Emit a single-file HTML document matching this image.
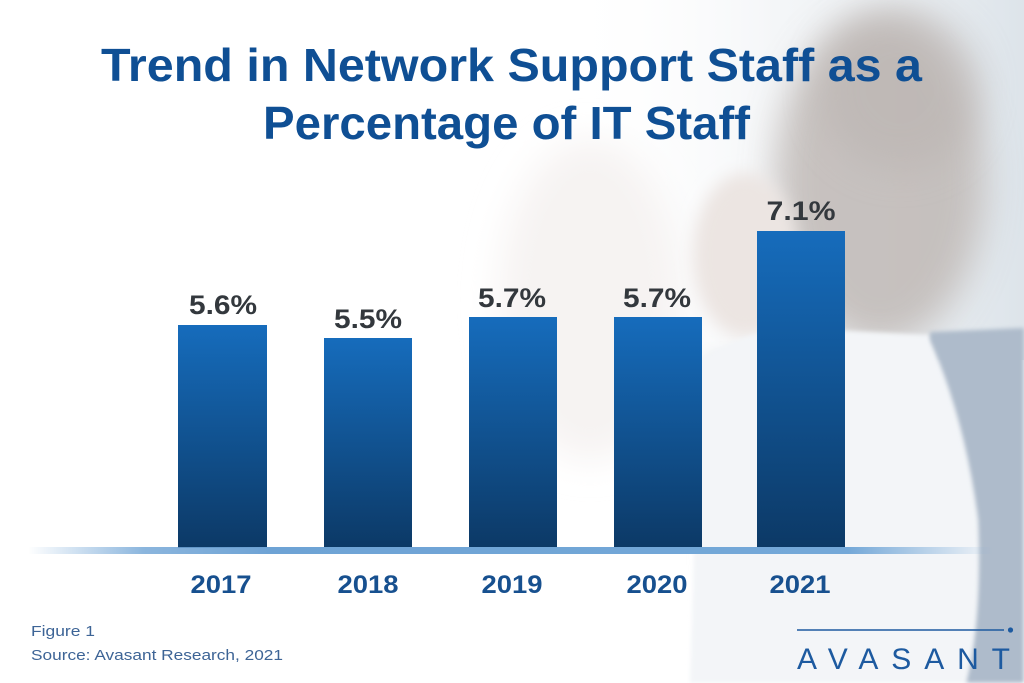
<!DOCTYPE html>
<html><head><meta charset="utf-8"><style>
html,body{margin:0;padding:0;background:#fff;}
svg{display:block;}
</style></head><body>
<svg width="1024" height="683" viewBox="0 0 1024 683" xmlns="http://www.w3.org/2000/svg">
<defs>
<linearGradient id="bar" x1="0" y1="0" x2="0" y2="1">
<stop offset="0" stop-color="#166cbc"/>
<stop offset="1" stop-color="#0c3966"/>
</linearGradient>
<linearGradient id="base" x1="0" y1="0" x2="1" y2="0">
<stop offset="0" stop-color="#6ea3d5" stop-opacity="0"/>
<stop offset="0.12" stop-color="#6ea3d5" stop-opacity="0.8"/>
<stop offset="0.25" stop-color="#6ea3d5"/>
<stop offset="0.85" stop-color="#74a8d8"/>
<stop offset="1" stop-color="#74a8d8" stop-opacity="0"/>
</linearGradient>
<linearGradient id="topbg" x1="0" y1="0" x2="1" y2="0">
<stop offset="0" stop-color="#ffffff" stop-opacity="0"/>
<stop offset="0.45" stop-color="#eef1f4" stop-opacity="0.6"/>
<stop offset="1" stop-color="#dde4ea"/>
</linearGradient>
<filter id="b20" x="-50%" y="-50%" width="200%" height="200%"><feGaussianBlur stdDeviation="18"/></filter>
<filter id="b8" x="-50%" y="-50%" width="200%" height="200%"><feGaussianBlur stdDeviation="8"/></filter>
<filter id="b3" x="-20%" y="-20%" width="140%" height="140%"><feGaussianBlur stdDeviation="2"/></filter>
</defs>

<!-- background photo approximation -->
<rect x="0" y="0" width="1024" height="683" fill="#ffffff"/>
<rect x="560" y="0" width="464" height="360" fill="url(#topbg)"/>
<ellipse cx="590" cy="300" rx="90" ry="160" fill="#f6f3f2" filter="url(#b20)"/>
<ellipse cx="880" cy="180" rx="105" ry="165" fill="#c0b9b6" opacity="0.85" filter="url(#b20)"/>
<ellipse cx="900" cy="90" rx="80" ry="80" fill="#bab3b0" opacity="0.55" filter="url(#b20)"/>
<ellipse cx="745" cy="255" rx="52" ry="82" fill="#ece5e2" filter="url(#b8)"/>
<rect x="706" y="355" width="55" height="210" fill="#e5e8ec" filter="url(#b8)"/>
<path d="M700 360 Q760 320 830 330 L930 335 Q965 420 978 520 Q982 620 965 683 L690 683 Z" fill="#f3f5f8" filter="url(#b3)"/>
<path d="M930 332 L1024 328 L1024 683 L966 683 Q982 620 978 520 Q965 420 930 340 Z" fill="#aebbcb" filter="url(#b3)"/>

<!-- title -->
<g font-family="'Liberation Sans', sans-serif" font-weight="bold" fill="#0f4f94">
<text x="101" y="81" font-size="46" textLength="821" lengthAdjust="spacingAndGlyphs">Trend in Network Support Staff as a</text>
<text x="263" y="139" font-size="46" textLength="487" lengthAdjust="spacingAndGlyphs">Percentage of IT Staff</text>
</g>

<!-- bars -->
<g fill="url(#bar)">
<rect x="178" y="325" width="89" height="223"/>
<rect x="324" y="338" width="88" height="210"/>
<rect x="469" y="317" width="88" height="231"/>
<rect x="614" y="317" width="88" height="231"/>
<rect x="757" y="231" width="88" height="317"/>
</g>

<!-- baseline -->
<rect x="28" y="547" width="965" height="7" fill="url(#base)"/>

<!-- value labels -->
<g font-family="'Liberation Sans', sans-serif" font-weight="bold" fill="#33383d" font-size="27" text-anchor="middle">
<text x="223" y="314" textLength="68" lengthAdjust="spacingAndGlyphs">5.6%</text>
<text x="368" y="328" textLength="68" lengthAdjust="spacingAndGlyphs">5.5%</text>
<text x="512" y="307" textLength="68" lengthAdjust="spacingAndGlyphs">5.7%</text>
<text x="657" y="307" textLength="68" lengthAdjust="spacingAndGlyphs">5.7%</text>
<text x="801" y="220" textLength="69" lengthAdjust="spacingAndGlyphs">7.1%</text>
</g>

<!-- year labels -->
<g font-family="'Liberation Sans', sans-serif" font-weight="bold" fill="#17508f" font-size="25" text-anchor="middle">
<text x="221" y="593" textLength="61" lengthAdjust="spacingAndGlyphs">2017</text>
<text x="368" y="593" textLength="61" lengthAdjust="spacingAndGlyphs">2018</text>
<text x="512" y="593" textLength="61" lengthAdjust="spacingAndGlyphs">2019</text>
<text x="657" y="593" textLength="61" lengthAdjust="spacingAndGlyphs">2020</text>
<text x="800" y="593" textLength="61" lengthAdjust="spacingAndGlyphs">2021</text>
</g>

<!-- footer -->
<g font-family="'Liberation Sans', sans-serif" fill="#3d6496">
<text x="31" y="636" font-size="15" textLength="64" lengthAdjust="spacingAndGlyphs">Figure 1</text>
<text x="31" y="660" font-size="15" textLength="252" lengthAdjust="spacingAndGlyphs">Source: Avasant Research, 2021</text>
</g>

<!-- logo -->
<line x1="797" y1="630" x2="1004" y2="630" stroke="#1d5aa0" stroke-width="1.6"/>
<circle cx="1010.5" cy="630" r="2.6" fill="#1d5aa0"/>
<text x="797" y="669" font-family="'Liberation Sans', sans-serif" font-size="30" fill="#1d5aa0" textLength="213" lengthAdjust="spacing">AVASANT</text>
</svg>
</body></html>
